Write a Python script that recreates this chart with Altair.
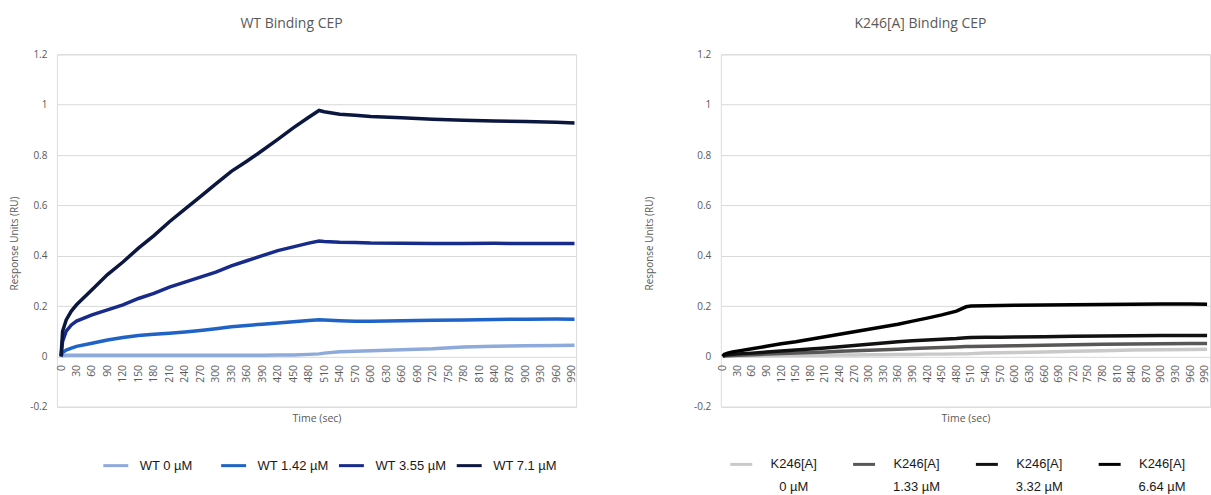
import altair as alt
import pandas as pd

# ---------------- data ----------------
time_s = [0, 3, 10, 20, 30, 60, 90, 120, 150, 180, 210, 240, 270, 300, 330, 360,
          390, 420, 450, 480, 500, 510, 540, 570, 600, 660, 720, 780, 840, 900, 960, 995]

wt_0 = [0, 0.004, 0.005, 0.005, 0.005, 0.005, 0.005, 0.005, 0.005, 0.005, 0.005, 0.005,
        0.005, 0.005, 0.005, 0.005, 0.005, 0.006, 0.006, 0.008, 0.010, 0.013, 0.018, 0.020,
        0.022, 0.026, 0.030, 0.037, 0.040, 0.042, 0.043, 0.044]
wt_142 = [0, 0.015, 0.025, 0.033, 0.040, 0.052, 0.065, 0.075, 0.083, 0.088, 0.092, 0.097,
          0.103, 0.110, 0.118, 0.123, 0.128, 0.133, 0.138, 0.143, 0.146, 0.145, 0.142, 0.140,
          0.140, 0.142, 0.144, 0.145, 0.147, 0.148, 0.149, 0.148]
wt_355 = [0, 0.060, 0.100, 0.125, 0.140, 0.165, 0.185, 0.205, 0.230, 0.250, 0.275, 0.295,
          0.315, 0.335, 0.360, 0.380, 0.400, 0.420, 0.435, 0.450, 0.458, 0.456, 0.453, 0.452,
          0.450, 0.449, 0.448, 0.448, 0.449, 0.448, 0.448, 0.448]
wt_71 = [0, 0.100, 0.145, 0.180, 0.205, 0.265, 0.325, 0.375, 0.430, 0.480, 0.535, 0.585,
         0.635, 0.685, 0.735, 0.775, 0.818, 0.862, 0.908, 0.950, 0.977, 0.972, 0.962, 0.958,
         0.953, 0.948, 0.942, 0.938, 0.935, 0.933, 0.930, 0.927]

k_0 = [0, 0.001, 0.002, 0.002, 0.002, 0.003, 0.003, 0.004, 0.004, 0.005, 0.005, 0.006,
       0.006, 0.007, 0.007, 0.008, 0.008, 0.009, 0.009, 0.010, 0.010, 0.011, 0.013, 0.014,
       0.015, 0.017, 0.020, 0.022, 0.025, 0.026, 0.027, 0.028]
k_133 = [0, 0.002, 0.003, 0.004, 0.005, 0.007, 0.009, 0.011, 0.013, 0.015, 0.017, 0.020,
         0.022, 0.024, 0.026, 0.028, 0.031, 0.033, 0.035, 0.037, 0.039, 0.039, 0.040, 0.041,
         0.042, 0.044, 0.046, 0.048, 0.049, 0.050, 0.051, 0.051]
k_332 = [0, 0.004, 0.006, 0.008, 0.010, 0.013, 0.017, 0.021, 0.025, 0.029, 0.033, 0.038,
         0.043, 0.048, 0.053, 0.058, 0.062, 0.065, 0.068, 0.071, 0.074, 0.075, 0.076, 0.076,
         0.077, 0.078, 0.080, 0.081, 0.082, 0.083, 0.083, 0.083]
k_664 = [0, 0.008, 0.013, 0.018, 0.021, 0.030, 0.040, 0.050, 0.058, 0.068, 0.078, 0.088,
         0.098, 0.108, 0.118, 0.128, 0.140, 0.152, 0.165, 0.180, 0.197, 0.200, 0.201, 0.202,
         0.203, 0.204, 0.205, 0.206, 0.207, 0.208, 0.208, 0.207]

wt_labels = ["WT 0 µM", "WT 1.42 µM", "WT 3.55 µM", "WT 7.1 µM"]
k_labels = ["K246[A]\n0 µM", "K246[A]\n1.33 µM", "K246[A]\n3.32 µM", "K246[A]\n6.64 µM"]
wt_colors = ["#8eaadb", "#1f63c6", "#172b8a", "#0b173f"]
k_colors = ["#c9c9c9", "#595656", "#111111", "#000000"]

x_ticks = list(range(0, 991, 30))
y_ticks = [-0.2, 0, 0.2, 0.4, 0.6, 0.8, 1, 1.2]

# ---------------- tables ----------------
def make_df(series_list, labels, field):
    rows = []
    for lab, vals in zip(labels, series_list):
        for t, v in zip(time_s, vals):
            rows.append({"t": t, "v": v, field: lab})
    return pd.DataFrame(rows)

df_wt = make_df([wt_0, wt_142, wt_355, wt_71], wt_labels, "series_wt")
df_k = make_df([k_0, k_133, k_332, k_664], k_labels, "series_k")

H = 353
GRAY = "#595959"
AX_FONT = "Open Sans"


def panel(df, field, labels, colors, title, title_dx, W, xdomain, ytitle_x, legend):
    return alt.Chart(df).mark_line(strokeWidth=3.5, clip=True).encode(
        x=alt.X("t:Q",
                scale=alt.Scale(domain=xdomain, nice=False, zero=False),
                axis=alt.Axis(values=x_ticks, labelAngle=-90, offset=-H * 0.2 / 1.4,
                              grid=False, domain=False, ticks=False,
                              labelFont=AX_FONT, labelFontSize=10.5, labelColor=GRAY,
                              labelPadding=8, labelFlush=False, labelOverlap=False,
                              title="Time (sec)", titleFont=AX_FONT, titleFontSize=10.5,
                              titleColor=GRAY, titleFontWeight="normal",
                              titleY=62, titleBaseline="middle")),
        y=alt.Y("v:Q",
                scale=alt.Scale(domain=[-0.2, 1.2], nice=False),
                axis=alt.Axis(values=y_ticks, domain=False, ticks=False,
                              gridColor="#d9d9d9", gridWidth=1,
                              format="~g",
                              labelFont=AX_FONT, labelFontSize=10, labelColor=GRAY,
                              labelPadding=10,
                              labelExpr="replace(datum.label, '\u2212', '-')",
                              title="Response Units (RU)", titleFont=AX_FONT,
                              titleFontSize=10, titleColor=GRAY, titleFontWeight="normal",
                              titleX=ytitle_x, titleY=189, titleBaseline="middle",
                              titleAlign="center", titleAngle=-90)),
        color=alt.Color(f"{field}:N",
                        scale=alt.Scale(domain=labels, range=colors),
                        sort=labels, legend=legend),
        order=alt.Order("order_idx:Q"),
    ).transform_calculate(
        order_idx=f"indexof({labels!r}, datum.{field})"
    ).properties(
        width=W, height=H,
        title=alt.TitleParams(title, dx=title_dx, anchor="middle", font=AX_FONT,
                              fontSize=14, fontWeight="normal", color=GRAY,
                              baseline="top", offset=18),
    )


legend_wt = alt.Legend(orient="none", legendX=45, legendY=398, direction="horizontal",
                       title=None, symbolType="stroke", symbolSize=625,
                       symbolStrokeWidth=3, labelFont="Liberation Sans", labelFontSize=13,
                       labelColor="#1a1a1a", labelOffset=10, columnPadding=3,
                       gridAlign="all", padding=0)
legend_k = alt.Legend(orient="none", legendX=8, legendY=398, direction="horizontal",
                      title=None, symbolType="stroke", symbolSize=484,
                      symbolStrokeWidth=3, labelFont="Liberation Sans", labelFontSize=13,
                      labelColor="#1a1a1a", labelOffset=40, labelAlign="center",
                      labelExpr="split(datum.label, '\\n')",
                      columnPadding=29, gridAlign="all", padding=0)

left = panel(df_wt, "series_wt", wt_labels, wt_colors, "WT Binding CEP", -25, 520,
             [-8, 998], -42, legend_wt)
right = panel(df_k, "series_k", k_labels, k_colors, "K246[A] Binding CEP", -45, 490,
              [-4, 1001], -71, legend_k)

chart = alt.hconcat(left, right, spacing=66).resolve_scale(
    color="independent"
).resolve_legend(color="independent").properties(
    padding={"left": 9, "top": 16, "right": 0, "bottom": 0},
    background="white",
).configure_view(stroke=None).configure(
    style={"guide-label": {"lineHeight": 23}}
)

chart.save("out.html", embed_options={"renderer": "svg", "actions": False})
